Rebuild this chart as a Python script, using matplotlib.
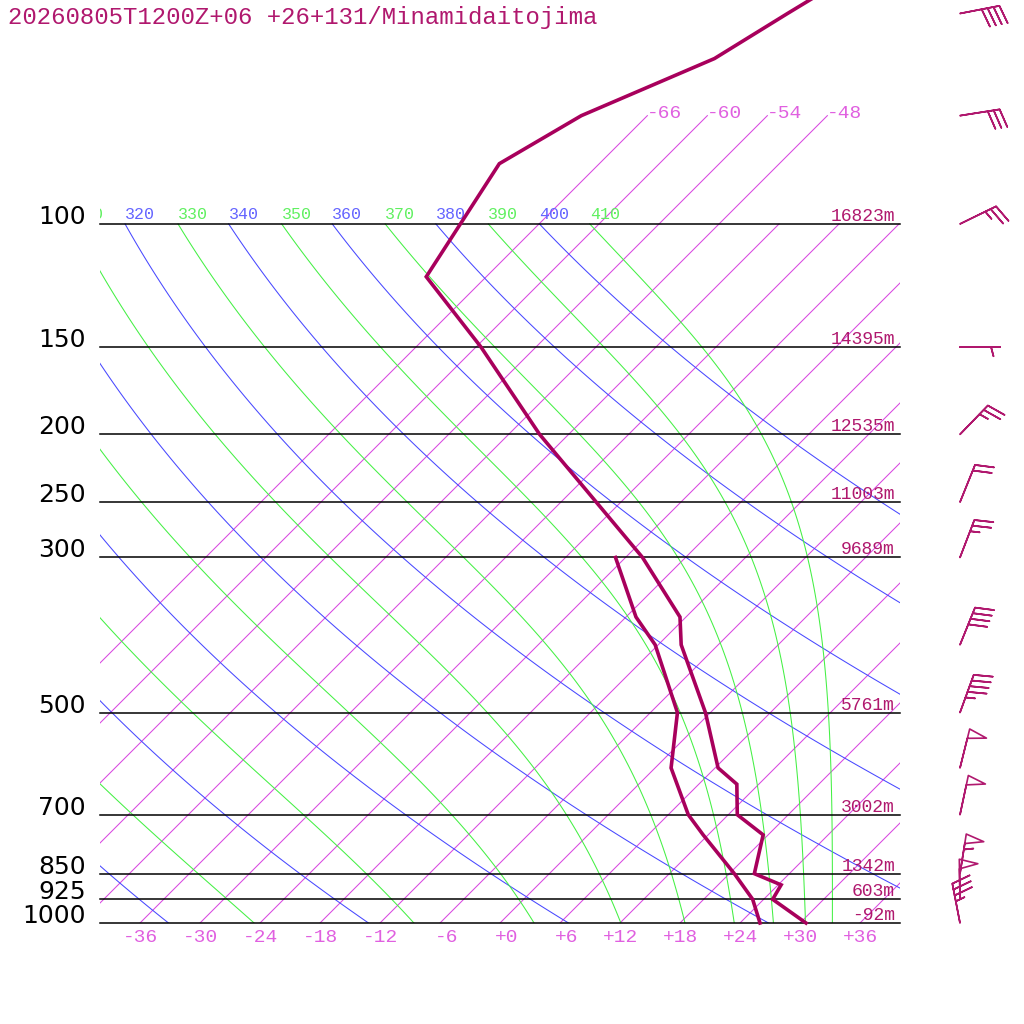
import numpy as np
import matplotlib
matplotlib.use('Agg')
import matplotlib.pyplot as plt
from matplotlib.transforms import offset_copy

# ---------------- data ----------------
title = "20260805T1200Z+06 +26+131/Minamidaitojima"

temp_p = [1000, 925, 882, 850, 748, 700, 633, 600, 500, 400, 365, 300, 200, 150, 119, 82, 70, 58, 50, 40]
temp_t = [30.6, 24.9, 24.3, 20.5, 17.5, 12.9, 9.8, 6.3, -0.5, -9.7, -12.6, -22.3, -44.9, -59.5, -72.0, -76.0, -72.6, -65.0, -62.2, -57.8]

dew_p = [1000, 925, 850, 748, 700, 600, 500, 400, 365, 300]
dew_t = [26.0, 22.9, 18.5, 11.5, 8.0, 1.6, -3.3, -12.3, -17.0, -25.0]

level_p = [100, 150, 200, 250, 300, 500, 700, 850, 925, 1000]
level_labels = ["100", "150", "200", "250", "300", "500", "700", "850", "925", "1000"]
height_m = [16823, 14395, 12535, 11003, 9689, 5761, 3002, 1342, 603, -92]

wind_p = [50, 70, 100, 150, 200, 250, 300, 400, 500, 600, 700, 850, 925, 1000]
wind_dir = [79, 81, 64, 90, 44, 22, 21, 22, 20, 14, 12, 9, 359, 349]
wind_spd = [40, 30, 25, 5, 25, 20, 25, 40, 45, 50, 50, 55, 50, 35]

isotherms = list(range(-66, 37, 6))
dry_thetas = list(range(240, 401, 20))
moist_thetaes = list(range(250, 411, 20))

# ---------------- geometry ----------------
PX_PER_LN = 303.6          # pixels per ln(p)
PX_PER_DEG = 10.0          # pixels per degree C
SKEW = PX_PER_LN / PX_PER_DEG
P_TOP = 1000.0 * np.exp(-923.0 / PX_PER_LN)
X_LEFT, X_RIGHT = -40.0, 40.0

def skx(t, p):
    return np.asarray(t, float) + SKEW * np.log(1000.0 / np.asarray(p, float))

C_PROF = '#a8005c'
C_TEXT = '#b0186e'
C_ISO = '#d848e0'
C_ISO_TXT = '#e060e0'
C_DRY = '#4848ff'
C_DRY_TXT = '#6464ff'
C_MOIST = '#44f044'
C_MOIST_TXT = '#60f060'
MONO = 'Liberation Mono'

fig = plt.figure(figsize=(10.24, 10.24), dpi=100)
ax = fig.add_axes([100 / 1024, 101 / 1024, 800 / 1024, 923 / 1024])
ax.set_yscale('log')
ax.set_ylim(1000, P_TOP)
ax.set_xlim(X_LEFT, X_RIGHT)
ax.axis('off')

def off(dx=0, dy=0):
    return offset_copy(ax.transData, fig=fig, x=dx, y=dy, units='dots')

# isotherms
for t in isotherms:
    ptop = 70 if t <= -48 else 100
    pp = np.array([1000.0, ptop])
    ax.plot(skx([t, t], pp), pp, color=C_ISO, lw=0.75, zorder=1)
    if ptop == 70:
        ax.text(skx(t, 70), 70, f"{t:+d}", color=C_ISO_TXT,
                fontsize=14, family=MONO, ha='left', va='baseline',
                transform=off(0, -2), clip_on=True)

def theta_label(x100, txt, color):
    # only labels that reach into the plotting area (partly clipped at left edge)
    if x100 + 3.0 > X_LEFT:
        ax.text(x100, 100, txt, color=color, fontsize=12, family=MONO,
                ha='left', va='baseline', transform=off(0, 5), clip_on=True)

# dry adiabats
pp = np.geomspace(1000, 100, 120)
for th in dry_thetas:
    tt = th * (pp / 1000.0) ** 0.2857 - 273.15
    ax.plot(skx(tt, pp), pp, color=C_DRY, lw=0.75, zorder=2)
    theta_label(float(skx(tt[-1], 100)), str(th), C_DRY_TXT)

# pseudo-adiabats (Bolton theta-e)
def theta_e_sat(tk, p):
    tc = tk - 273.15
    es = 6.112 * np.exp(17.67 * tc / (tc + 243.5))
    r = 622.0 * es / (p - es)
    return tk * (1000.0 / p) ** (0.2854 * (1 - 0.28e-3 * r)) * \
        np.exp((3.376 / tk - 0.00254) * r * (1 + 0.81e-3 * r))

for the in moist_thetaes:
    lo = np.full_like(pp, 150.0)
    hi = np.full_like(pp, 320.0)
    for _ in range(60):
        mid = 0.5 * (lo + hi)
        f = theta_e_sat(mid, pp) > the
        hi = np.where(f, mid, hi)
        lo = np.where(f, lo, mid)
    tt = 0.5 * (lo + hi) - 273.15
    ax.plot(skx(tt, pp), pp, color=C_MOIST, lw=0.75, zorder=2)
    theta_label(float(skx(tt[-1], 100)), str(the), C_MOIST_TXT)

# isobars and labels
for p, lab, h in zip(level_p, level_labels, height_m):
    ax.axhline(p, color='black', lw=1.1, zorder=3, clip_on=False)
    ax.text(-41.4, p, lab, fontsize=18, family='DejaVu Sans', color='black',
            ha='right', va='baseline', transform=off(0, 0), clip_on=False)
    ax.text(39.5, p, f"{h}m", fontsize=13, family=MONO, color=C_TEXT,
            ha='right', va='baseline', transform=off(0, 3), clip_on=True, zorder=4)

# bottom temperature labels (only isotherms that meet the 1000 hPa line)
for t in isotherms:
    if X_LEFT < t < X_RIGHT:
        ax.text(t, 1000, f"{t:+d}", fontsize=14, family=MONO, color=C_ISO_TXT,
                ha='right', va='top', transform=off(18, -6), clip_on=False)

# profiles
ax.plot(skx(temp_t, temp_p), temp_p, color=C_PROF, lw=2.6, zorder=5,
        solid_joinstyle='miter', clip_on=False)
ax.plot(skx(dew_t, dew_p), dew_p, color=C_PROF, lw=2.6, zorder=5,
        solid_joinstyle='miter', clip_on=False)

# wind barbs
wd = np.deg2rad(wind_dir)
ws = np.array(wind_spd, float)
u = -ws * np.sin(wd)
v = -ws * np.cos(wd)
ax.barbs(np.full(len(wind_p), 46.0), wind_p, u, v, length=7.6,
         barbcolor=C_TEXT, flagcolor='none', linewidth=1.2, clip_on=False,
         sizes=dict(spacing=0.15, height=0.46, width=0.24, emptybarb=0.1), zorder=6)

fig.text(8 / 1024, 1 - 24 / 1024, title, fontsize=17.3, family=MONO,
         color=C_TEXT, ha='left', va='baseline')

fig.savefig('out.png', dpi=100)
